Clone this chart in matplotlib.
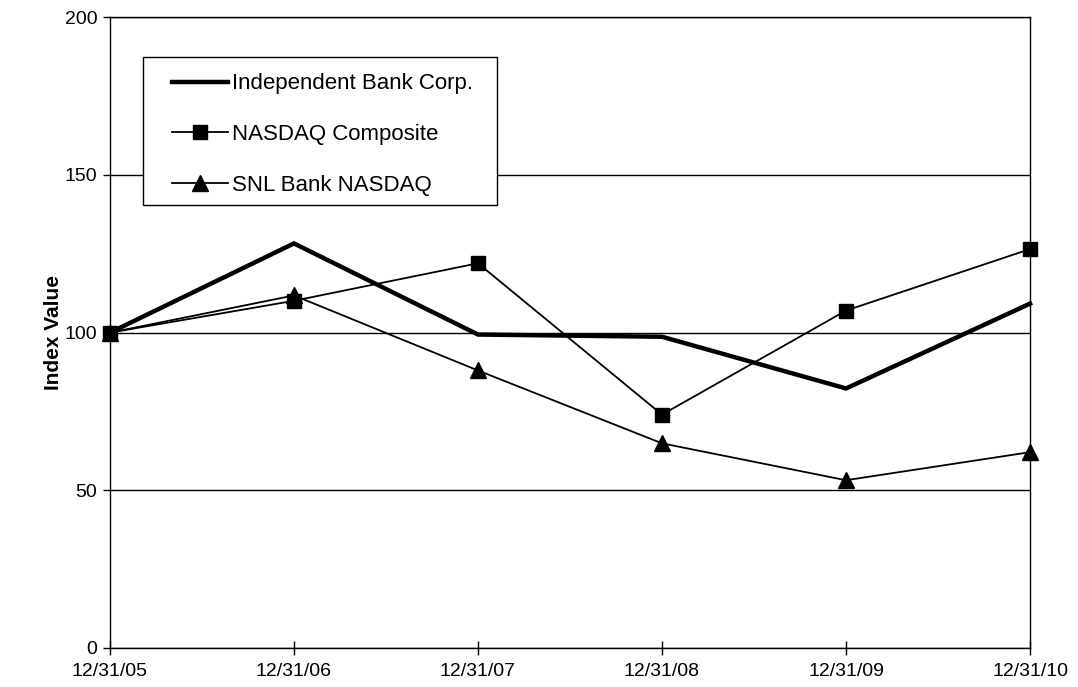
import matplotlib
matplotlib.use("Agg")
import matplotlib.pyplot as plt
from matplotlib.patches import Rectangle

plt.rcParams["font.family"] = ["Liberation Sans", "DejaVu Sans"]

dates = ["12/31/05", "12/31/06", "12/31/07", "12/31/08", "12/31/09", "12/31/10"]
independent_bank = [100, 128.3, 99.4, 98.7, 82.3, 109.2]
nasdaq_composite = [100, 110.1, 122.0, 74.0, 107.0, 126.5]
snl_bank_nasdaq = [100, 111.8, 88.0, 64.9, 53.2, 62.1]
y_ticks = [0, 50, 100, 150, 200]

fig = plt.figure(figsize=(10.78, 6.87), dpi=100)
ax = fig.add_axes([0.102, 0.0568, 0.8535, 0.918])

x = list(range(len(dates)))
ax.plot(x, independent_bank, color="black", lw=3.2, solid_joinstyle="miter",
        label="Independent Bank Corp.", zorder=4, clip_on=False)
ax.plot(x, nasdaq_composite, color="black", lw=1.3, marker="s", markersize=10,
        label="NASDAQ Composite", zorder=3, clip_on=False)
ax.plot(x, snl_bank_nasdaq, color="black", lw=1.3, marker="^", markersize=11,
        label="SNL Bank NASDAQ", zorder=3, clip_on=False)

ax.set_xlim(0, len(dates) - 1)
ax.set_ylim(0, 200)
ax.set_yticks(y_ticks)
ax.set_xticks(x)
ax.set_xticklabels(dates)
ax.tick_params(axis="x", direction="inout", length=10, width=1, labelsize=14, pad=6)
ax.tick_params(axis="y", direction="out", length=5, width=1, labelsize=14, pad=4)
ax.yaxis.grid(True, color="black", lw=1)
ax.set_axisbelow(True)
for s in ax.spines.values():
    s.set_color("black")
    s.set_linewidth(1)

ax.set_ylabel("Index Value", fontsize=15, fontweight="bold", labelpad=1)

# legend box drawn separately so the padding can be wider than tall
ax.add_patch(Rectangle((0.0355, 0.702), 0.385, 0.235, transform=ax.transAxes,
                       facecolor="white", edgecolor="black", lw=1, zorder=5))
leg = ax.legend(loc="upper left", bbox_to_anchor=(0.0674, 0.911), borderaxespad=0,
                frameon=False, fontsize=16, handlelength=2.5, handletextpad=0.2,
                labelspacing=1.33, borderpad=0)
leg.set_zorder(6)

fig.savefig("out.png", dpi=100)
